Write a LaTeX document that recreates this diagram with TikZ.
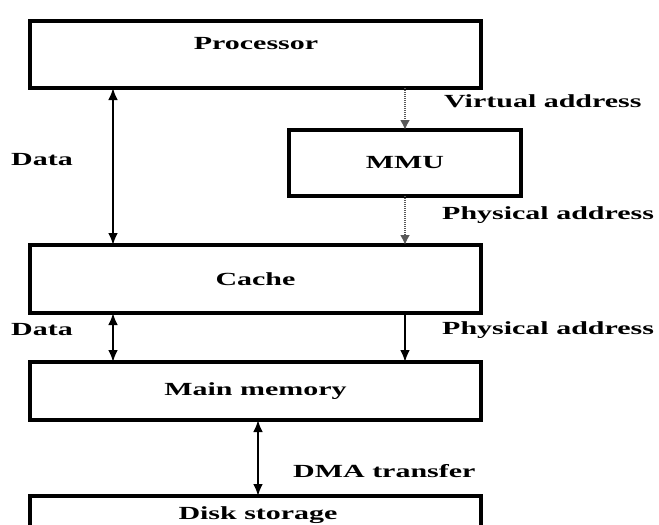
\documentclass[tikz,border=0pt]{standalone}
\usepackage{fontspec}
\setmainfont{Liberation Serif}
\usepackage{graphicx}
\usetikzlibrary{arrows.meta}
\newcommand\stretchtxt[1]{\scalebox{1.62}[1]{#1}}
\begin{document}
\begin{tikzpicture}[x=1pt,y=-1pt,
  box/.style={draw, line width=3.4pt, rectangle, outer sep=0pt, inner sep=0pt},
  lbl/.style={font=\fontsize{18.5}{20}\selectfont\bfseries, inner sep=0pt},
  solidarrow/.style={line width=2.6pt, -{Latex[length=12pt,width=10pt]}},
  dualarrow/.style={line width=2.6pt, {Latex[length=12pt,width=10pt]}-{Latex[length=12pt,width=10pt]}},
  dotarrow/.style={line width=2.2pt, black!65, dash pattern=on 1.2pt off 0.8pt, -{Latex[length=10pt,width=10pt]}}
]
\useasboundingbox (0,0) rectangle (659,525);
\clip (0,0) rectangle (659,525);
\fill[white] (0,0) rectangle (659,525);

% units
\node[box, minimum width=451pt, minimum height=67pt] (proc) at (255.5,54.5) {};
\node[box, minimum width=232pt, minimum height=66pt] (mmu) at (405,163) {};
\node[box, minimum width=451pt, minimum height=68pt] (cache) at (255.5,279) {};
\node[box, minimum width=451pt, minimum height=58pt] (mem) at (255.5,391) {};
\node[box, minimum width=451pt, minimum height=70pt] (disk) at (255.5,531) {};

% unit names
\node[lbl] (tproc) at (256,44) {\stretchtxt{Processor}};
\node[lbl] (tmmu) at (mmu.center) {\stretchtxt{MMU}};
\node[lbl] (tcache) at (cache.center) {\stretchtxt{Cache}};
\node[lbl] (tmem) at (mem.center) {\stretchtxt{Main memory}};
\node[lbl] (tdisk) at (258,515) {\stretchtxt{Disk storage}};

% connector columns
\coordinate (cl) at (113,0);
\coordinate (cr) at (405,0);
\coordinate (cm) at (258,0);

\draw[dualarrow] (proc.south -| cl) -- (cache.north -| cl);
\draw[dotarrow] (proc.south -| cr) -- (mmu.north -| cr);
\draw[dotarrow] (mmu.south -| cr) -- (cache.north -| cr);
\draw[dualarrow] (cache.south -| cl) -- (mem.north -| cl);
\draw[solidarrow] (cache.south -| cr) -- (mem.north -| cr);
\draw[dualarrow] (mem.south -| cm) -- (disk.north -| cm);

% connector labels
\node[lbl, anchor=west] (lva) at (444,101) {\stretchtxt{Virtual address}};
\node[lbl, anchor=west] (ld1) at (11,160) {\stretchtxt{Data}};
\node[lbl, anchor=west] (lpa1) at (442,215) {\stretchtxt{Physical address}};
\node[lbl, anchor=west] (ld2) at (11,330) {\stretchtxt{Data}};
\node[lbl, anchor=west] (lpa2) at (442,330) {\stretchtxt{Physical address}};
\node[lbl, anchor=west] (ldma) at (293,471) {\stretchtxt{DMA transfer}};
\end{tikzpicture}
\end{document}
